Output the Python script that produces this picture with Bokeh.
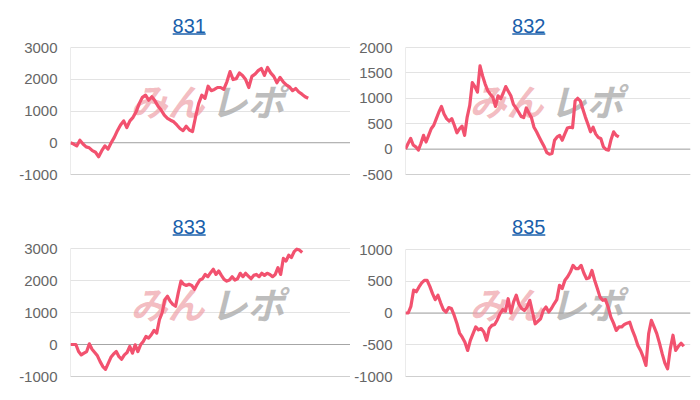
from bokeh.plotting import figure
from bokeh.layouts import column, row
from bokeh.models import FixedTicker, Span, Range1d
from bokeh.core.properties import value
from bokeh.embed import file_html
from bokeh.resources import INLINE

# ---- data ----
titles = ["831", "832", "833", "835"]

s831 = [0, -40, -100, 80, -40, -130, -160, -250, -300, -440, -250, -100, -200, 0, 170, 380,
        560, 690, 480, 690, 800, 980, 1240, 1430, 1500, 1340, 1450, 1320, 1150, 1030, 870, 770,
        710, 660, 560, 450, 380, 520, 400, 350, 820, 1240, 1500, 1400, 1780, 1640, 1680, 1740,
        1740, 1680, 1920, 2240, 1990, 2020, 2200, 2120, 1990, 1740, 2090, 2160, 2270, 2340,
        2120, 2370, 2200, 2090, 1890, 2060, 1920, 1820, 1760, 1640, 1710, 1600, 1530, 1450, 1400]

s832 = [0, 110, 210, 80, 45, -20, 110, 270, 140, 270, 400, 470, 600, 730, 840, 690, 600, 550,
        600, 470, 320, 400, 450, 270, 630, 860, 1310, 1230, 1120, 1640, 1440, 1280, 1150, 1080,
        1020, 840, 1050, 990, 1100, 1230, 1140, 1050, 880, 810, 730, 640, 620, 810, 710, 620,
        430, 340, 240, 140, 45, -70, -100, -85, 175, 240, 270, 175, 300, 415, 430, 420, 950,
        1000, 950, 790, 630, 490, 340, 430, 300, 230, 210, 45, -5, -20, 190, 340, 270, 240]

s833 = [0, 0, 0, -220, -325, -270, -220, 20, -150, -250, -355, -535, -690, -775, -590, -400,
        -295, -220, -380, -460, -325, -250, -60, -270, -10, -220, -10, 95, 250, 200, 305, 440,
        355, 775, 985, 1400, 1510, 1350, 1250, 1195, 1615, 1980, 1880, 1845, 1880, 1845, 1720,
        1880, 2015, 2055, 2190, 2120, 2245, 2350, 2190, 2300, 2160, 2035, 1980, 2015, 2120,
        2015, 2055, 2225, 2120, 2225, 2140, 2055, 2160, 2190, 2120, 2225, 2160, 2225, 2190,
        2120, 2190, 2400, 2190, 2690, 2610, 2790, 2720, 2900, 2980, 2950, 2875]

s835 = [0, 0, 105, 360, 335, 410, 475, 515, 515, 420, 305, 210, 280, 160, 55, 15, 85, 70, -35,
        -160, -315, -380, -460, -590, -430, -325, -220, -265, -245, -300, -430, -245, -195,
        -180, -105, -10, 55, 30, 225, 0, 175, 280, 135, 70, 40, 95, 200, 15, -170, -130, -90,
        40, 95, 15, 70, 145, 210, 435, 385, 515, 570, 645, 750, 700, 700, 750, 630, 540, 555,
        670, 515, 385, 250, 200, 210, 95, -65, -160, -275, -220, -220, -180, -160, -145, -275,
        -380, -510, -590, -695, -825, -325, -115, -220, -325, -475, -640, -790, -880, -565,
        -350, -590, -525, -475, -525]

ticks_831 = [-1000, 0, 1000, 2000, 3000]
ticks_832 = [-500, 0, 500, 1000, 1500, 2000]
ticks_833 = [-1000, 0, 1000, 2000, 3000]
ticks_835 = [-1000, -500, 0, 500, 1000]

LINE = "#f2526f"
TITLE_C = "#1a5fab"
TXT_SHIFT = 6  # empirical baseline compensation for text glyphs


def make_panel(title, ys, ticks, fig_w, fig_h, bl, br, bt, bb, gt, gb, ex, tx, logo):
    FW = fig_w - bl - br
    FH = fig_h - bt - bb
    tmin, tmax = min(ticks), max(ticks)
    k = (gb - gt) / (tmax - tmin)
    y_end = tmax + gt / k
    y_start = tmin - (FH - gb) / k
    n = len(ys)
    x_start = 0
    x_end = (n - 1) * FW / ex

    def dx(px):
        return x_start + px / FW * (x_end - x_start)

    def dy(py):
        return y_end - py / FH * (y_end - y_start)

    p = figure(width=fig_w, height=fig_h, output_backend="svg", toolbar_location=None,
               x_axis_location=None, x_range=Range1d(x_start, x_end),
               y_range=Range1d(y_start, y_end), min_border_left=bl, min_border_right=br,
               min_border_top=bt, min_border_bottom=bb)
    p.outline_line_color = None
    p.background_fill_color = "white"
    p.border_fill_color = "white"
    p.xgrid.visible = False
    p.ygrid.ticker = FixedTicker(ticks=ticks)
    p.ygrid.grid_line_color = "#e3e3e3"
    ax = p.yaxis[0]
    ax.ticker = FixedTicker(ticks=ticks)
    ax.major_label_overrides = {t: str(t) for t in ticks}
    ax.axis_line_color = None
    ax.major_tick_line_color = None
    ax.minor_tick_line_color = None
    ax.major_tick_in = 0
    ax.major_tick_out = 0
    ax.major_label_standoff = 13
    ax.major_label_text_font = "Liberation Sans"
    ax.major_label_text_font_size = "15px"
    ax.major_label_text_color = "#666666"

    p.add_layout(Span(location=tmin, dimension="width", line_color="#cfcfcf", line_width=1,
                      level="underlay"))
    p.add_layout(Span(location=0, dimension="width", line_color="#a6a6a6", line_width=1,
                      level="underlay"))
    p.segment(x0=[0], y0=[tmin], x1=[0], y1=[tmax], line_color="#d8d8d8", line_width=1)

    # watermark
    lx, ly = logo
    p.text(x=[dx(lx - 3)], y=[dy(ly - TXT_SHIFT + 2)], text=["みん"],
           text_font=value("Noto Sans CJK JP"), text_font_size="37px",
           text_font_style="bold italic", text_color="#ee9fa7", text_alpha=0.7,
           text_align="right", text_baseline="middle")
    p.text(x=[dx(lx + 3)], y=[dy(ly - TXT_SHIFT + 2)], text=["レポ"],
           text_font=value("Noto Sans CJK JP"), text_font_size="37px",
           text_font_style="bold italic", text_color="#a8a8a8", text_alpha=0.75,
           text_align="left", text_baseline="middle")

    # title
    p.text(x=[dx(tx)], y=[dy(23.7 - TXT_SHIFT)], text=[title], text_font=value("Liberation Sans"),
           text_font_size="20px", text_color=TITLE_C, text_align="center",
           text_baseline="alphabetic")
    p.segment(x0=[dx(tx - 16.5)], y0=[dy(25.6)], x1=[dx(tx + 16.5)], y1=[dy(25.6)],
              line_color=TITLE_C, line_width=1.5)

    xs = list(range(n))
    p.line(xs, ys, line_color=LINE, line_width=3.2, line_join="round")
    return p


p1 = make_panel(titles[0], s831, ticks_831, 350, 209, 70, 0, 8, 31, 39, 166, 237.7, 118.7, (137, 95))
p2 = make_panel(titles[1], s832, ticks_832, 350, 209, 55, 10, 8, 31, 39, 166, 213.3, 123.3, (141, 95))
p3 = make_panel(titles[2], s833, ticks_833, 350, 191, 70, 0, 0, 20, 39, 167, 231.7, 118.7, (137, 97))
p4 = make_panel(titles[3], s835, ticks_835, 350, 191, 55, 10, 0, 20, 40, 167, 278.3, 123.3, (141, 97))

layout = column(row(p1, p2), row(p3, p4))
open("out.html", "w").write(file_html(layout, INLINE))
